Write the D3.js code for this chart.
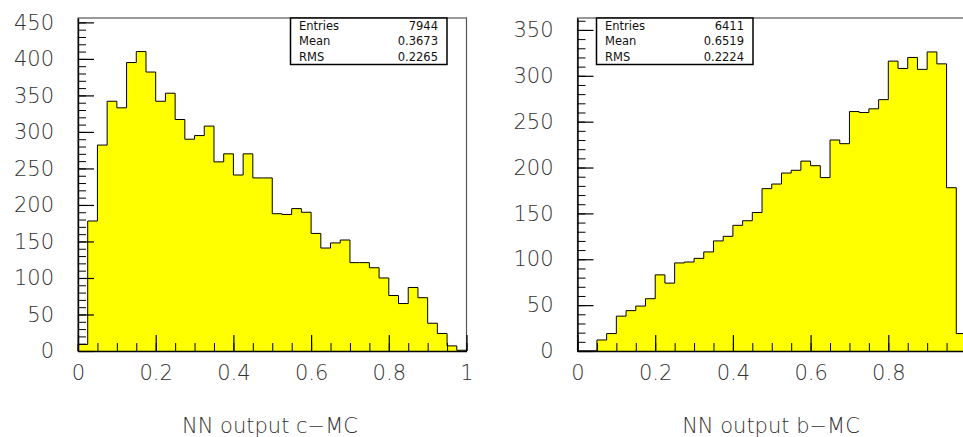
<!DOCTYPE html>
<html>
<head>
<meta charset="utf-8">
<script src="https://cdn.jsdelivr.net/npm/d3@7"></script>
<style>
body{margin:0;background:#fff;}
text{font-family:"DejaVu Sans",sans-serif;}
</style>
</head>
<body>
<svg id="chart" width="963" height="437"></svg>
<script>
// two NN output histograms, 40 bins of 0.025 on [0,1]
const binWidth = 0.025;
const countsC = [9,178,282,342,333,395,410,382,342,353,317,290,295,308,259,270,241,270,237,237,
                 188,187,195,190,161,141,148,152,121,121,114,100,76,65,87,73,38,24,7,1];
const countsB = [0,0,12,19,38,44,49,57,83,74,96,97,101,108,120,125,137,142,151,177,
                 182,194,197,207,202,189,230,226,261,260,264,274,316,308,320,307,326,313,178,19];
const statNames = ["Entries","Mean","RMS"];
const statsC = ["7944","0.3673","0.2265"];
const statsB = ["6411","0.6519","0.2224"];
const xTicksC = [0,0.2,0.4,0.6,0.8,1];
const xTicksB = [0,0.2,0.4,0.6,0.8];
const yTicksC = [0,50,100,150,200,250,300,350,400,450];
const yTicksB = [0,50,100,150,200,250,300,350];
const titles = ["NN output c\u2212MC","NN output b\u2212MC"];

const svg = d3.select("#chart");

const panels = [
  {left:78, ymax:456, counts:countsC, xt:xTicksC, yt:yTicksC, stats:statsC, title:titles[0], boxX:290.5, titleX:270},
  {left:577.5, ymax:363, counts:countsB, xt:xTicksB, yt:yTicksB, stats:statsB, title:titles[1], boxX:596.5, titleX:771}
];

const plotW = 388.5, plotTop = 18, plotBottom = 351;

panels.forEach(function(p){
  const x = d3.scaleLinear().domain([0,1]).range([p.left, p.left+plotW]);
  const y = d3.scaleLinear().domain([0,p.ymax]).range([plotBottom, plotTop]);
  const g = svg.append("g");

  // frame
  g.append("rect")
    .attr("x", p.left).attr("y", plotTop)
    .attr("width", plotW).attr("height", plotBottom-plotTop)
    .attr("fill","none").attr("stroke","#555").attr("stroke-width",1.2);

  // histogram outline
  let pts = [[0,0]];
  p.counts.forEach(function(c,i){
    pts.push([i*binWidth, c]);
    pts.push([(i+1)*binWidth, c]);
  });
  pts.push([1,0]);
  g.append("path")
    .datum(pts)
    .attr("d", d3.line().x(d => x(d[0])).y(d => y(d[1])))
    .attr("fill","#ffff00")
    .attr("stroke","#000")
    .attr("stroke-width",1);

  // minor ticks
  g.append("g")
    .attr("transform","translate("+p.left+",0)")
    .call(d3.axisLeft(y).tickValues(d3.range(0,p.ymax,10)).tickSize(-8).tickSizeOuter(0).tickFormat(""))
    .call(a => a.select(".domain").remove());
  g.append("g")
    .attr("transform","translate(0,"+plotBottom+")")
    .call(d3.axisBottom(x).tickValues(d3.range(0,1.001,0.05)).tickSize(-8).tickSizeOuter(0).tickFormat(""))
    .call(a => a.select(".domain").remove());

  // major ticks + labels
  const ya = g.append("g")
    .attr("transform","translate("+p.left+",0)")
    .call(d3.axisLeft(y).tickValues(p.yt).tickSize(-16).tickSizeOuter(0).tickPadding(24));
  const xa = g.append("g")
    .attr("transform","translate(0,"+plotBottom+")")
    .call(d3.axisBottom(x).tickValues(p.xt).tickSize(-16).tickSizeOuter(0).tickPadding(14).tickFormat(d3.format("")));
  [ya, xa].forEach(function(a){
    a.selectAll("line").attr("stroke","#000").attr("stroke-width",1.2);
    a.select(".domain").attr("stroke","#000").attr("stroke-width",1.4);
    a.selectAll("text")
      .attr("font-family","'DejaVu Sans',sans-serif")
      .attr("font-size",21).attr("font-weight",300).attr("fill","#333");
  });

  // stats box
  const bw = 156.5, bh = 46.5;
  g.append("rect")
    .attr("x", p.boxX).attr("y", plotTop)
    .attr("width", bw).attr("height", bh)
    .attr("fill","#fff").attr("stroke","#000").attr("stroke-width",1.5);
  statNames.forEach(function(n,i){
    g.append("text").attr("x", p.boxX+8.5).attr("y", 30+i*15.3)
      .attr("font-size",11.5).attr("fill","#111").text(n);
    g.append("text").attr("x", p.boxX+bw-9).attr("y", 30+i*15.3)
      .attr("text-anchor","end").attr("font-size",11.5).attr("fill","#111").text(p.stats[i]);
  });

  // axis title
  g.append("text")
    .attr("x", p.titleX).attr("y", 433)
    .attr("text-anchor","middle")
    .attr("font-size",21).attr("font-weight",300).attr("fill","#333")
    .text(p.title);
});
</script>
</body>
</html>
